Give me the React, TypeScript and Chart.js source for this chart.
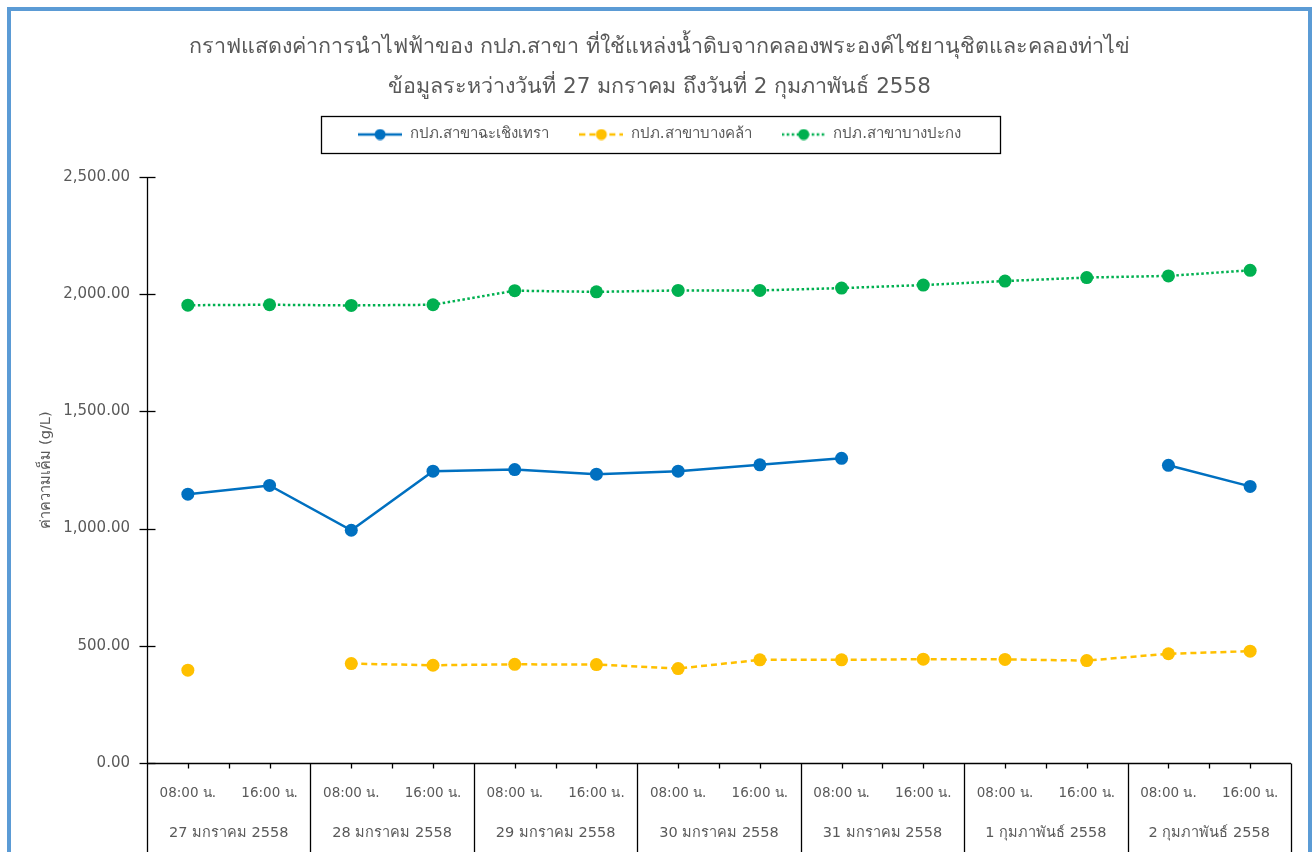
import React, { useEffect, useRef } from "react";
import { Chart, registerables } from "chart.js";

Chart.register(...registerables);

const titleLines = [
  "กราฟแสดงค่าการนำไฟฟ้าของ กปภ.สาขา ที่ใช้แหล่งน้ำดิบจากคลองพระองค์ไชยานุชิตและคลองท่าไข่",
  "ข้อมูลระหว่างวันที่ 27 มกราคม ถึงวันที่ 2 กุมภาพันธ์ 2558",
];
const yAxisTitle = "ค่าความเค็ม (g/L)";

const timeLabels = [
  "08:00 น.", "16:00 น.", "08:00 น.", "16:00 น.", "08:00 น.", "16:00 น.", "08:00 น.",
  "16:00 น.", "08:00 น.", "16:00 น.", "08:00 น.", "16:00 น.", "08:00 น.", "16:00 น.",
];
const dateLabels = [
  "27 มกราคม 2558", "28 มกราคม 2558", "29 มกราคม 2558", "30 มกราคม 2558",
  "31 มกราคม 2558", "1 กุมภาพันธ์ 2558", "2 กุมภาพันธ์ 2558",
];

const seriesNames = ["กปภ.สาขาฉะเชิงเทรา", "กปภ.สาขาบางคล้า", "กปภ.สาขาบางปะกง"];
const chachoengsao = [1147, 1184, 993, 1245, 1252, 1232, 1245, 1272, 1300, null, null, null, 1270, 1180];
const bangKhla = [396, null, 424, 417, 421, 420, 403, 440, 440, 443, 442, 437, 466, 477];
const bangPakong = [1953, 1955, 1952, 1955, 2015, 2010, 2016, 2016, 2026, 2039, 2056, 2071, 2078, 2102];

const yMin = 0;
const yMax = 2500;
const yStep = 500;

const BLUE = "#0070C0";
const YELLOW = "#FFC000";
const GREEN = "#00B050";
const TEXT = "#595959";
const FONT = '"DejaVu Sans", "Noto Sans", sans-serif';

function makeSymbol(color: string, dash: number[]) {
  const c = document.createElement("canvas");
  c.width = 44;
  c.height = 12;
  const g = c.getContext("2d")!;
  g.strokeStyle = color;
  g.lineWidth = 2.5;
  g.setLineDash(dash);
  g.beginPath();
  g.moveTo(0, 6);
  g.lineTo(44, 6);
  g.stroke();
  g.setLineDash([]);
  g.fillStyle = color;
  g.beginPath();
  g.arc(22, 6, 5.5, 0, Math.PI * 2);
  g.fill();
  return c;
}

const decorPlugin = {
  id: "decor",
  afterDraw(chart: any) {
    const { ctx, chartArea, scales } = chart;
    const xs = scales.x;
    const ys = scales.y;
    const H = chart.height;
    const ln = (x1: number, y1: number, x2: number, y2: number) => {
      ctx.beginPath();
      ctx.moveTo(x1, y1);
      ctx.lineTo(x2, y2);
      ctx.stroke();
    };
    ctx.save();
    ctx.strokeStyle = "#000";
    ctx.lineWidth = 1.3;
    const L = Math.round(chartArea.left) + 0.5;
    const B = Math.round(chartArea.bottom) + 0.5;
    // axes
    ln(chartArea.left, B, chartArea.right, B);
    ln(L, chartArea.top, L, H);
    // y cross ticks
    ys.ticks.forEach((_t: any, i: number) => {
      const py = Math.round(ys.getPixelForTick(i)) + 0.5;
      ln(L - 8, py, L + 8, py);
    });
    // x ticks and group separators
    const n = timeLabels.length;
    for (let i = 0; i < n; i++) {
      const c = Math.round(xs.getPixelForValue(i)) + 0.5;
      ln(c, B, c, B + 5);
      const b =
        i < n - 1
          ? Math.round((xs.getPixelForValue(i) + xs.getPixelForValue(i + 1)) / 2) + 0.5
          : Math.round(chartArea.right) + 0.5;
      if (i % 2 === 0) ln(b, B, b, B + 5);
      else ln(b, B, b, H);
    }
    // date row
    ctx.fillStyle = TEXT;
    ctx.font = `14.5px ${FONT}`;
    ctx.textAlign = "center";
    ctx.textBaseline = "middle";
    dateLabels.forEach((d, g) => {
      const cx = (xs.getPixelForValue(2 * g) + xs.getPixelForValue(2 * g + 1)) / 2;
      ctx.fillText(d, cx, 833);
    });
    // legend frame
    const lg = chart.legend;
    if (lg && lg.legendHitBoxes && lg.legendHitBoxes.length) {
      const hb = lg.legendHitBoxes;
      const left = Math.min(...hb.map((h: any) => h.left));
      const right = Math.max(...hb.map((h: any) => h.left + h.width));
      const top = Math.min(...hb.map((h: any) => h.top));
      const bottom = Math.max(...hb.map((h: any) => h.top + h.height));
      const cy = (top + bottom) / 2;
      ctx.strokeStyle = "#000";
      ctx.lineWidth = 1.3;
      ctx.strokeRect(Math.round(left - 37) + 0.5, Math.round(cy - 18.5) + 0.5, Math.round(right - left + 76), 37);
    }
    ctx.restore();
  },
};

export default function App() {
  const ref = useRef<HTMLCanvasElement>(null);
  useEffect(() => {
    const canvas = ref.current!;
    const symbols = [makeSymbol(BLUE, []), makeSymbol(YELLOW, [6, 4]), makeSymbol(GREEN, [2.5, 2.5])];
    const chart = new Chart(canvas, {
      type: "line",
      data: {
        labels: timeLabels,
        datasets: [
          {
            label: seriesNames[0],
            data: chachoengsao,
            borderColor: BLUE,
            backgroundColor: BLUE,
            borderWidth: 2.5,
            pointRadius: 6.5,
            pointBackgroundColor: BLUE,
            pointBorderColor: BLUE,
            pointBorderWidth: 0,
            spanGaps: false,
          },
          {
            label: seriesNames[1],
            data: bangKhla,
            borderColor: YELLOW,
            backgroundColor: YELLOW,
            borderWidth: 2.5,
            borderDash: [6, 4],
            pointRadius: 6.5,
            pointBackgroundColor: YELLOW,
            pointBorderColor: YELLOW,
            pointBorderWidth: 0,
            spanGaps: false,
          },
          {
            label: seriesNames[2],
            data: bangPakong,
            borderColor: GREEN,
            backgroundColor: GREEN,
            borderWidth: 2.5,
            borderDash: [2.5, 2.5],
            pointRadius: 6.5,
            pointBackgroundColor: GREEN,
            pointBorderColor: GREEN,
            pointBorderWidth: 0,
            spanGaps: false,
          },
        ],
      },
      options: {
        responsive: false,
        animation: false,
        events: [],
        layout: { padding: { left: 11, right: 4, top: 11, bottom: 0 } },
        plugins: {
          tooltip: { enabled: false },
          title: {
            display: true,
            text: titleLines,
            color: TEXT,
            font: { family: FONT, size: 21.5, weight: "normal", lineHeight: "40px" },
            padding: { top: 16, bottom: -10 },
          },
          subtitle: {
            display: true,
            text: "",
            weight: 500,
            font: { size: 1, lineHeight: 1 },
            padding: { top: 0, bottom: 24 },
          },
          legend: {
            display: true,
            position: "top",
            labels: {
              usePointStyle: true,
              pointStyleWidth: 44,
              padding: 30,
              color: TEXT,
              font: { family: FONT, size: 15 },
              generateLabels: (ch: any) =>
                ch.data.datasets.map((ds: any, i: number) => ({
                  text: ds.label,
                  fillStyle: ds.borderColor,
                  strokeStyle: ds.borderColor,
                  lineWidth: 0,
                  hidden: false,
                  datasetIndex: i,
                  pointStyle: symbols[i],
                  fontColor: TEXT,
                })),
            },
          },
        },
        scales: {
          x: {
            type: "category",
            offset: true,
            grid: { display: false, drawTicks: false, offset: true },
            border: { display: false },
            ticks: { color: TEXT, font: { family: FONT, size: 13.5 }, padding: 22, maxRotation: 0, autoSkip: false },
            afterFit: (s: any) => {
              s.height = 89;
            },
          },
          y: {
            type: "linear",
            min: yMin,
            max: yMax,
            grid: { display: false, drawTicks: false },
            border: { display: false },
            ticks: {
              stepSize: yStep,
              color: TEXT,
              padding: 17,
              font: { family: FONT, size: 15 },
              callback: (v: any) =>
                Number(v).toLocaleString("en-US", { minimumFractionDigits: 2, maximumFractionDigits: 2 }),
            },
            title: {
              display: true,
              text: yAxisTitle,
              color: TEXT,
              font: { family: FONT, size: 14.5 },
              padding: { top: 27, bottom: 0 },
            },
            afterFit: (s: any) => {
              s.width = 136;
            },
          },
          yRight: {
            type: "linear",
            position: "right",
            display: true,
            grid: { display: false, drawTicks: false },
            border: { display: false },
            ticks: { display: false },
            afterFit: (s: any) => {
              s.width = 17;
            },
          },
        },
      },
      plugins: [decorPlugin],
    });
    return () => chart.destroy();
  }, []);
  return (
    <>
      <div style={{ position: "fixed", left: 0, top: 0, width: 1312, height: 852, background: "#fff" }}>
        <canvas ref={ref} width={1312} height={852} style={{ display: "block" }} />
      </div>
      <div
        style={{
          position: "fixed",
          left: 7,
          top: 7,
          width: 1305,
          height: 900,
          border: "4px solid #5B9BD5",
          boxSizing: "border-box",
          pointerEvents: "none",
        }}
      />
    </>
  );
}
